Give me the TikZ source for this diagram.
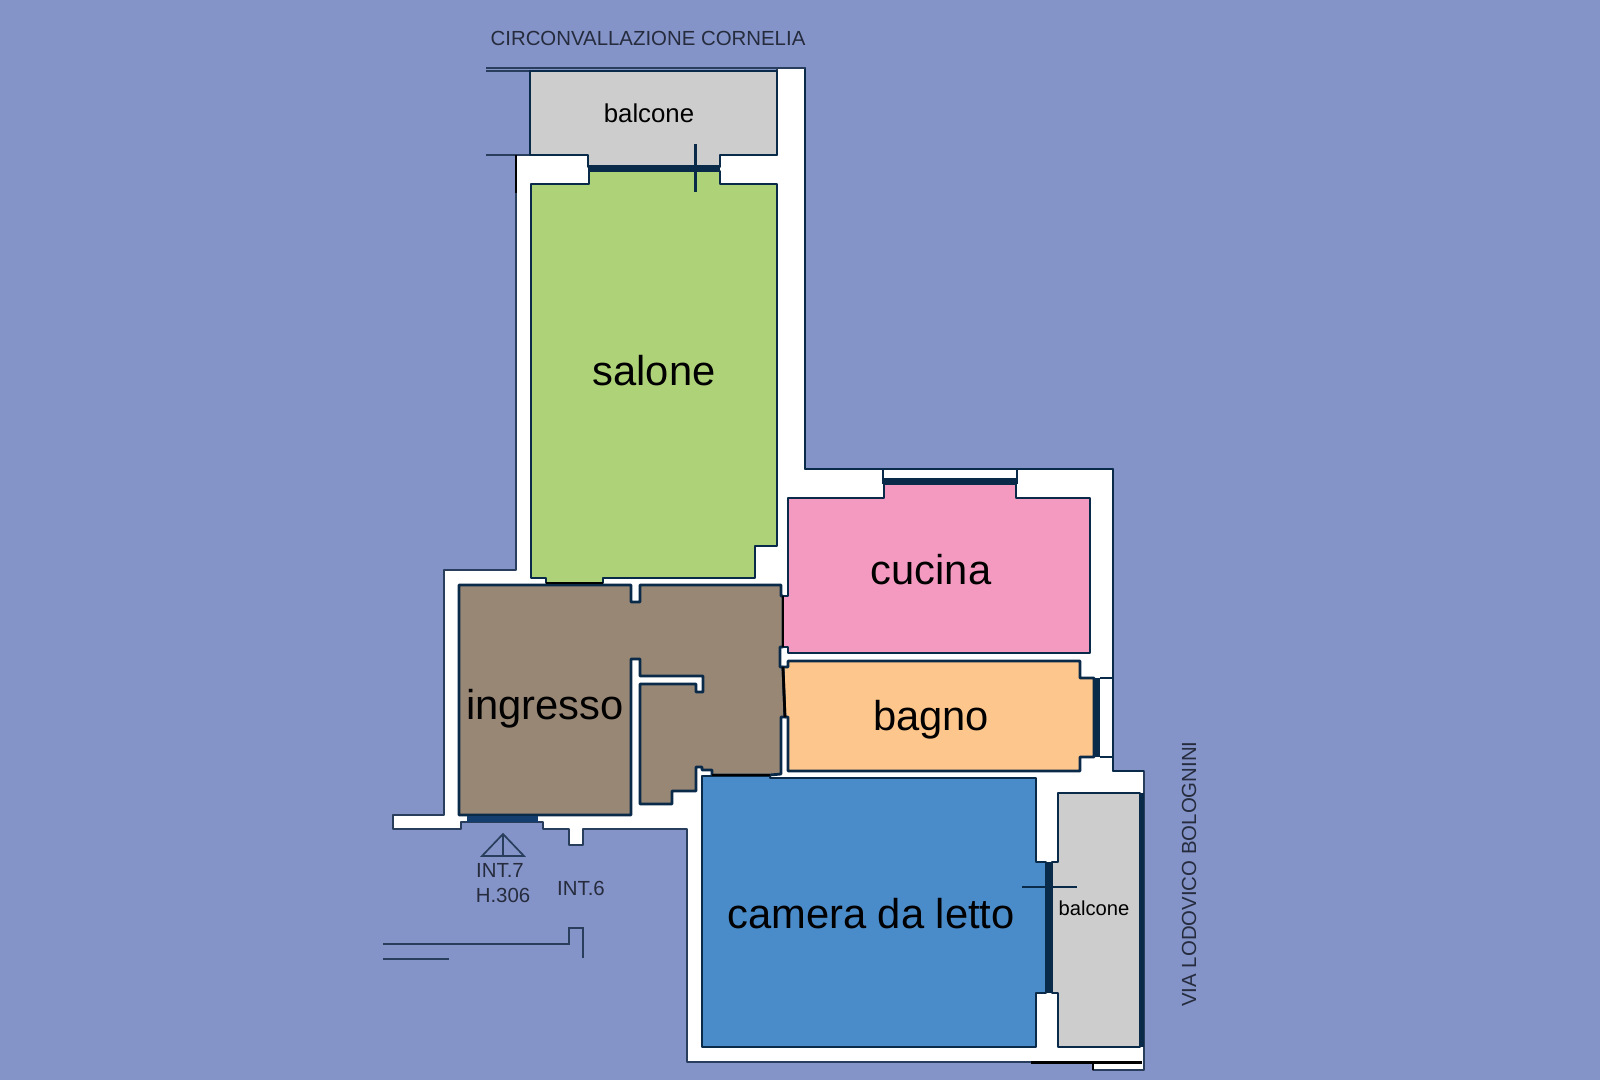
\documentclass[tikz,border=0pt]{standalone}
\usepackage{fontspec}
\setmainfont{Liberation Sans}
\definecolor{sfondo}{RGB}{132,148,200}
\definecolor{muro}{RGB}{10,42,74}
\definecolor{vetro}{RGB}{20,62,110}
\definecolor{bordo}{RGB}{40,62,92}
\definecolor{verde}{RGB}{174,210,120}
\definecolor{marrone}{RGB}{153,135,117}
\definecolor{rosa}{RGB}{244,154,193}
\definecolor{pesca}{RGB}{253,198,140}
\definecolor{azzurro}{RGB}{74,139,201}
\definecolor{grigio}{RGB}{205,205,205}
\definecolor{scritta}{RGB}{38,44,62}
\tikzset{
  stanza/.style={draw=muro, line width=2.8pt, line join=round},
  parete/.style={draw=muro, line width=2.8pt, line join=round},
  segno/.style={draw=bordo, line width=1.7pt},
  nero/.style={draw=black, line width=2.6pt},
  grande/.style={anchor=base, text=black, inner sep=0pt, font=\fontsize{41.7}{42}\selectfont},
  piccolo/.style={anchor=base, text=scritta, inner sep=0pt, font=\fontsize{20.4}{21}\selectfont},
}
\begin{document}
\begin{tikzpicture}[x=1pt, y=-1pt]
  \useasboundingbox[fill=sfondo] (0,0) rectangle (1600,1080);
  \path[draw=bordo, line width=1.6pt, line join=round, fill=white] (516,155) -- (777,155) -- (777,68) -- (805,68) -- (805,469) -- (1113,469) -- (1113,771)
    -- (1144,771) -- (1144,1070) -- (1093,1070) -- (1093,1062) -- (687,1062) -- (687,829) -- (583,829) -- (583,845)
    -- (569,845) -- (569,829) -- (543,829) -- (543,822) -- (461,822) -- (461,829) -- (393,829) -- (393,815)
    -- (444,815) -- (444,570) -- (516,570) -- cycle;
  \draw[parete] (777,68) -- (805,68) -- (805,469) -- (1113,469) -- (1113,771) -- (1144,771);
  \draw[segno] (486,68) -- (805,68);
  \draw[segno] (486,71) -- (530,71);
  \draw[segno] (486,155) -- (530,155);
  \path[stanza, fill=grigio] (530,71) -- (777,71) -- (777,155) -- (720,155) -- (720,167) -- (588,167) -- (588,155) -- (530,155) -- cycle;
  \path[stanza, fill=verde] (531,184) -- (589,184) -- (589,171) -- (720,171) -- (720,184) -- (777,184) -- (777,546) -- (755,546)
    -- (755,578) -- (603,578) -- (603,583) -- (546,583) -- (546,578) -- (531,578) -- cycle;
  \path[stanza, fill=marrone] (459,585) -- (631,585) -- (631,602) -- (640,602) -- (640,585) -- (781,585) -- (781,596) -- (783,596)
    -- (783,647) -- (780,647) -- (780,667) -- (783,667) -- (785,717) -- (781,717) -- (781,774) -- (770,775) -- (712,775) -- (712,770)
    -- (702,770) -- (702,767) -- (696,767) -- (696,791) -- (672,791) -- (672,804) -- (640,804) -- (640,684) -- (696,684) -- (696,692)
    -- (703,692) -- (703,676) -- (640,676) -- (640,659) -- (631,659) -- (631,815) -- (459,815) -- cycle;
  \path[stanza, fill=rosa] (788,498) -- (884,498) -- (884,484) -- (1016,484) -- (1016,498) -- (1090,498) -- (1090,653) -- (788,653)
    -- (788,647) -- (783,647) -- (783,596) -- (788,596) -- cycle;
  \path[stanza, fill=pesca] (788,661) -- (1080,661) -- (1080,678) -- (1094,678) -- (1094,757) -- (1080,757) -- (1080,771) -- (788,771)
    -- (788,717) -- (785,717) -- (783,667) -- (788,667) -- cycle;
  \path[stanza, fill=azzurro] (702,776) -- (770,776) -- (770,778) -- (1036,778) -- (1036,862) -- (1046,862) -- (1046,993) -- (1036,993)
    -- (1036,1047) -- (702,1047) -- cycle;
  \path[stanza, fill=grigio] (1058,793) -- (1140,793) -- (1140,1047) -- (1058,1047) -- (1058,993) -- (1052,993) -- (1052,862) -- (1058,862) -- cycle;
  \fill[muro] (588,165) rectangle (720,171);
  \fill[muro] (883,478) rectangle (1017,484);
  \fill[muro] (1094,678) rectangle (1100,757);
  \fill[muro] (1046,862) rectangle (1052,993);
  \fill[muro] (1140,793) rectangle (1144,1047);
  \fill[vetro] (467,816) rectangle (538,822);
  \draw[parete] (883,469) -- (883,484);
  \draw[parete] (1017,469) -- (1017,484);
  \draw[parete] (1100,678) -- (1113,678);
  \draw[parete] (1100,757) -- (1113,757);
  \draw[muro, line width=3pt] (695,144) -- (695,192);
  \draw[muro, line width=2.6pt] (1022,887) -- (1077,887);
  \draw[nero] (516,155) -- (516,193);
  \draw[nero] (546,583) -- (603,583);
  \draw[nero] (783,596) -- (783,647);
  \draw[nero] (783,667) -- (785,717);
  \draw[nero] (712,775) -- (770,775);
  \draw[black, line width=3pt] (1031,1062) -- (1142,1062);
  \draw[nero] (1093,1062) -- (1093,1070);
  \draw[segno] (503,834) -- (482,856) -- (524,856) -- cycle;
  \draw[segno] (503,834) -- (503,856);
  \draw[segno] (383,944) -- (569,944) -- (569,928) -- (583,928) -- (583,958);
  \draw[segno] (383,959) -- (449,959);
  \node[piccolo] (cornelia) at (648,45) {CIRCONVALLAZIONE CORNELIA};
  \node[anchor=base, inner sep=0pt, font=\fontsize{25.8}{26}\selectfont] (balcone1) at (649,122) {balcone};
  \node[grande] (salone) at (654,385) {salone};
  \node[grande] (ingresso) at (545,719) {ingresso};
  \node[grande] (cucina) at (931,584) {cucina};
  \node[grande] (bagno) at (931,730) {bagno};
  \node[grande] (camera) at (871,928) {camera da letto};
  \node[anchor=base, inner sep=0pt, font=\fontsize{20.2}{21}\selectfont] (balcone2) at (1094,915) {balcone};
  \node[piccolo] (int7) at (500,877) {INT.7};
  \node[piccolo] (h306) at (503,902) {H.306};
  \node[piccolo] (int6) at (581,895) {INT.6};
  \node[piccolo, rotate=90] (bolognini) at (1196,874) {VIA LODOVICO BOLOGNINI};
\end{tikzpicture}
\end{document}
